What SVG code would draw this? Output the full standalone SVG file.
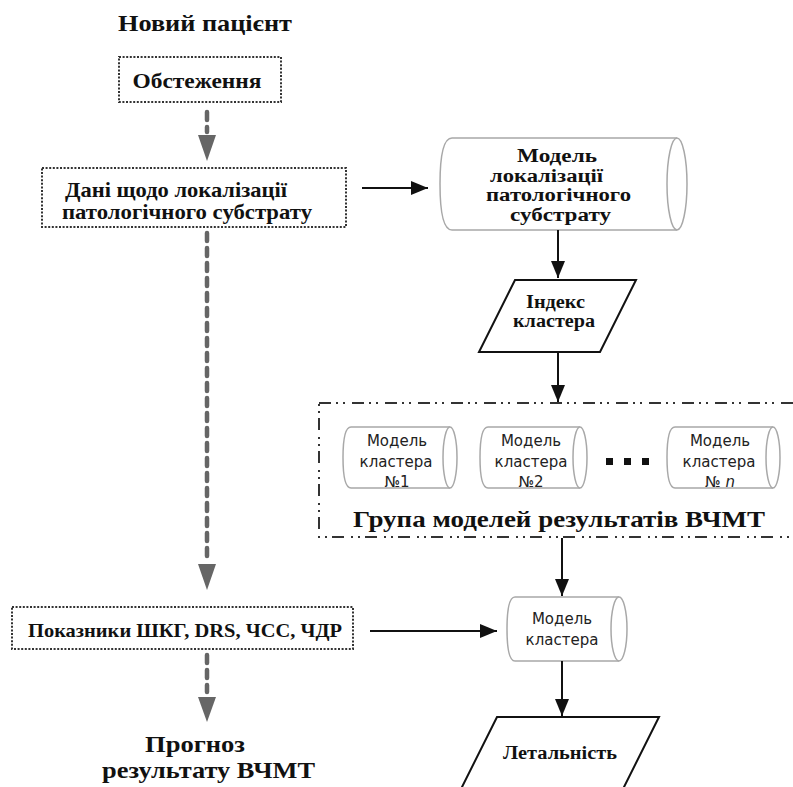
<svg xmlns="http://www.w3.org/2000/svg" width="793" height="787" viewBox="0 0 793 787">
<style>
.bs{font-family:"Liberation Serif","Times New Roman",serif;font-weight:bold;fill:#111;text-anchor:middle}
.ss{font-family:"DejaVu Sans",Verdana,sans-serif;font-size:15px;fill:#222;text-anchor:middle}
.dot{fill:#fff;stroke:#333;stroke-width:2;stroke-dasharray:2 1.6}
.cyl{fill:#fff;stroke:#a8a8a8;stroke-width:1.5}
.par{fill:#fff;stroke:#111;stroke-width:2}
.blk{stroke:#111;stroke-width:2;fill:none}
.gry{stroke:#666;stroke-width:4.5;fill:none;stroke-dasharray:8 7;stroke-linecap:round}
.grp{fill:none;stroke:#333;stroke-width:2;stroke-dasharray:12 5 2 5 2 7}
</style>
<defs>
<marker id="ab" markerWidth="17" markerHeight="14" refX="17" refY="7" orient="auto" markerUnits="userSpaceOnUse" viewBox="0 0 17 14">
<path d="M0,0 L17,7 L0,14 Z" fill="#111"/>
</marker>
</defs>

<g id="title"><text class="bs" x="205" y="31" font-size="24" textLength="174" lengthAdjust="spacingAndGlyphs">Новий пацієнт</text></g>

<g id="obstezhennya">
<rect class="dot" x="119" y="57" width="162" height="45"/>
<text class="bs" x="197" y="88" font-size="20" textLength="129" lengthAdjust="spacingAndGlyphs">Обстеження</text>
</g>

<g id="dani">
<rect class="dot" x="42" y="168" width="304" height="59"/>
<text class="bs" x="176" y="197" font-size="21" textLength="222" lengthAdjust="spacingAndGlyphs">Дані щодо локалізації</text>
<text class="bs" x="187" y="219" font-size="21" textLength="250" lengthAdjust="spacingAndGlyphs">патологічного субстрату</text>
</g>

<g id="model-lok">
<path class="cyl" d="M452,138 L677,138 A10,46 0 0 1 677,230 L452,230 Q440,230 440,184 Q440,138 452,138 Z"/>
<path class="cyl" d="M677,138 A10,46 0 0 0 677,230"/>
<text class="bs" x="557" y="162" font-size="18.5" textLength="80" lengthAdjust="spacingAndGlyphs">Модель</text>
<text class="bs" x="546.5" y="181.5" font-size="18.5" textLength="113" lengthAdjust="spacingAndGlyphs">локалізації</text>
<text class="bs" x="558.5" y="201" font-size="18.5" textLength="145" lengthAdjust="spacingAndGlyphs">патологічного</text>
<text class="bs" x="560.5" y="220.5" font-size="18.5" textLength="101" lengthAdjust="spacingAndGlyphs">субстрату</text>
</g>

<g id="index">
<polygon class="par" points="515,280 636,280 600,352 479,352"/>
<text class="bs" x="555.5" y="308" font-size="18" textLength="59" lengthAdjust="spacingAndGlyphs">Індекс</text>
<text class="bs" x="554" y="327" font-size="18" textLength="82" lengthAdjust="spacingAndGlyphs">кластера</text>
</g>

<g id="group">
<rect class="grp" x="319" y="403" width="490" height="134"/>
<g id="c1">
<path class="cyl" d="M351,427 L450,427 A7,30.5 0 0 1 450,488 L351,488 Q343,488 343,457.5 Q343,427 351,427 Z"/>
<path class="cyl" d="M450,427 A7,30.5 0 0 0 450,488"/>
<text class="ss" x="397" y="446">Модель</text>
<text class="ss" x="396" y="467">кластера</text>
<text class="ss" x="397" y="487">№1</text>
</g>
<g id="c2">
<path class="cyl" d="M488,427 L580,427 A7,30.5 0 0 1 580,488 L488,488 Q480,488 480,457.5 Q480,427 488,427 Z"/>
<path class="cyl" d="M580,427 A7,30.5 0 0 0 580,488"/>
<text class="ss" x="531" y="446">Модель</text>
<text class="ss" x="531" y="467">кластера</text>
<text class="ss" x="531" y="487">№2</text>
</g>
<g id="dots">
<rect x="606" y="458" width="7" height="7" fill="#111"/>
<rect x="624" y="458" width="7" height="7" fill="#111"/>
<rect x="642" y="458" width="7" height="7" fill="#111"/>
</g>
<g id="cn">
<path class="cyl" d="M675,427 L773,427 A7,30.5 0 0 1 773,488 L675,488 Q667,488 667,457.5 Q667,427 675,427 Z"/>
<path class="cyl" d="M773,427 A7,30.5 0 0 0 773,488"/>
<text class="ss" x="720" y="446">Модель</text>
<text class="ss" x="719" y="467">кластера</text>
<text class="ss" x="720" y="487">№ <tspan font-style="italic">n</tspan></text>
</g>
<text class="bs" x="559" y="527" font-size="23" textLength="412" lengthAdjust="spacingAndGlyphs">Група моделей результатів ВЧМТ</text>
</g>

<g id="pokazniki">
<rect class="dot" x="12" y="607" width="341" height="42"/>
<text class="bs" x="185" y="637" font-size="19" textLength="314" lengthAdjust="spacingAndGlyphs">Показники ШКГ, DRS, ЧСС, ЧДР</text>
</g>

<g id="model-kl">
<path class="cyl" d="M515,597 L619,597 A8,32 0 0 1 619,661 L515,661 Q507,661 507,629 Q507,597 515,597 Z"/>
<path class="cyl" d="M619,597 A8,32 0 0 0 619,661"/>
<text class="ss" x="562" y="624">Модель</text>
<text class="ss" x="562" y="645">кластера</text>
</g>

<g id="prognoz">
<text class="bs" x="195" y="752" font-size="24" textLength="100" lengthAdjust="spacingAndGlyphs">Прогноз</text>
<text class="bs" x="208.5" y="778" font-size="24" textLength="213" lengthAdjust="spacingAndGlyphs">результату ВЧМТ</text>
</g>

<g id="letal">
<polygon class="par" points="497,717 659,717 604,827 442,827"/>
<text class="bs" x="560" y="759" font-size="18" textLength="114" lengthAdjust="spacingAndGlyphs">Летальність</text>
</g>

<g id="connectors">
<line class="gry" x1="207" y1="112" x2="207" y2="132"/>
<polygon points="198,135 216,135 207,161" fill="#666"/>
<line class="gry" x1="207" y1="233" x2="207" y2="560"/>
<polygon points="198,564 216,564 207,590" fill="#666"/>
<line class="gry" x1="207" y1="655" x2="207" y2="692"/>
<polygon points="198,697 216,697 207,722" fill="#666"/>
<line class="blk" x1="362" y1="188" x2="428" y2="188" marker-end="url(#ab)"/>
<line class="blk" x1="558" y1="230" x2="558" y2="278" marker-end="url(#ab)"/>
<line class="blk" x1="558" y1="352" x2="558" y2="402" marker-end="url(#ab)"/>
<line class="blk" x1="562" y1="538" x2="562" y2="596" marker-end="url(#ab)"/>
<line class="blk" x1="370" y1="631" x2="497" y2="631" marker-end="url(#ab)"/>
<line class="blk" x1="562" y1="661" x2="562" y2="716" marker-end="url(#ab)"/>
</g>
</svg>
